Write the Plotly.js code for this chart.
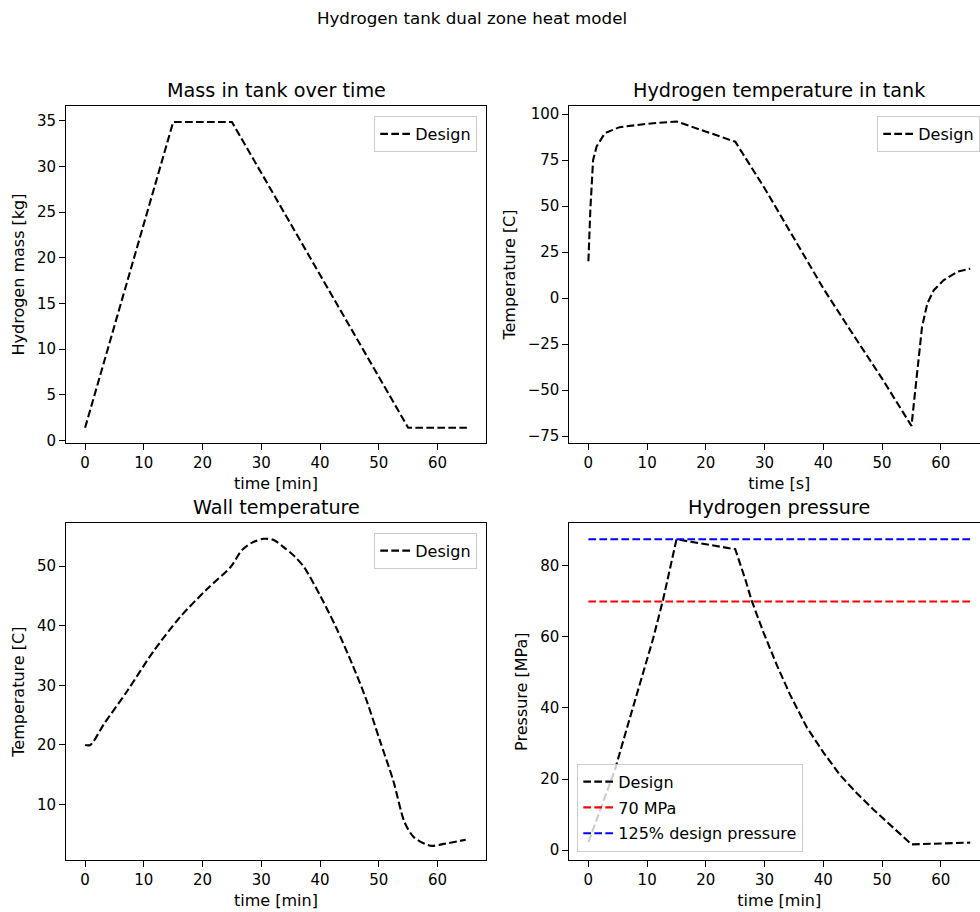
<!DOCTYPE html>
<html>
<head>
<meta charset="utf-8">
<script src="https://cdn.plot.ly/plotly-3.0.1.min.js"></script>
<style>
html, body { margin: 0; padding: 0; overflow: hidden; background: #fff; }
#chart { width: 1000px; height: 912px; }
</style>
</head>
<body>
<div id="chart"></div>
<script>
// ---- data ----
const massTime = [0, 15, 25, 55, 65];
const massKg = [1.4, 34.85, 34.85, 1.4, 1.4];

const gasTime = [0, 0.33, 0.8, 1.4, 2.8, 5.3, 9.9, 15, 25, 30, 35, 40, 45, 50, 55, 56, 56.8, 57.7, 58.8, 60.5, 62.8, 65];
const gasTemp = [20, 47.9, 75, 82.4, 89.6, 92.9, 94.7, 96, 85, 59.7, 32.5, 5.2, -19.5, -43.8, -69.5, -37.5, -15.7, -2.9, 4.3, 9.75, 14.3, 16];

const wallTime = [0, 0.9, 3.2, 7.2, 11.7, 16.2, 20.8, 24.8, 26.7, 28.5, 30.4, 32.1, 33.8, 35.6, 37.3, 40.1, 42.7, 45.5, 47.8, 50.2, 52.5, 54.4, 56, 58.8, 61.1, 64.8];
const wallTemp = [20, 20, 23.5, 29.1, 35.8, 41.5, 46.2, 49.9, 52.7, 54.0, 54.6, 54.4, 53.2, 51.7, 49.8, 44.9, 39.8, 33.5, 27.8, 20.7, 13.9, 7.0, 4.5, 3.1, 3.4, 4.1];

const pressTime = [0, 4.5, 6.8, 9.0, 11.0, 12.7, 15, 25, 26.7, 27.8, 29.8, 32.1, 34.4, 37.2, 40, 42.9, 45.7, 48.6, 51.8, 55, 65];
const pressMPa = [2.2, 22.5, 35.7, 48.2, 59.4, 70.4, 87.5, 84.7, 76.3, 70.2, 61.3, 52.0, 43.5, 34.5, 27.5, 21.0, 16.0, 11.3, 6.5, 1.6, 2.1];

const limitTime = [0, 65];
const limit70 = [70, 70];
const limit125 = [87.5, 87.5];

const seriesNames = ["Design", "70 MPa", "125% design pressure"];
const xTicks = [0, 10, 20, 30, 40, 50, 60];

// ---- figure ----
const W = 1000, H = 912;
const FONT = "DejaVu Sans";
const tickFs = 15;
const labelFs = 16;
const dash = "7.7px,3.3px";
const LW = 2.1;

function px(x) { return x / W; }
function py(y) { return 1 - y / H; }

const traces = [
  {x: massTime, y: massKg, xaxis: "x", yaxis: "y", name: seriesNames[0], legend: "legend",
   mode: "lines", line: {color: "#000", width: LW, dash: dash}},
  {x: gasTime, y: gasTemp, xaxis: "x2", yaxis: "y2", name: seriesNames[0], legend: "legend2",
   mode: "lines", line: {color: "#000", width: LW, dash: dash}},
  {x: wallTime, y: wallTemp, xaxis: "x3", yaxis: "y3", name: seriesNames[0], legend: "legend3",
   mode: "lines", line: {color: "#000", width: LW, dash: dash, shape: "spline", smoothing: 0.8}},
  {x: pressTime, y: pressMPa, xaxis: "x4", yaxis: "y4", name: seriesNames[0], legend: "legend4", legendgroup: "a",
   mode: "lines", line: {color: "#000", width: LW, dash: dash}},
  {x: limitTime, y: limit70, xaxis: "x4", yaxis: "y4", name: seriesNames[1], legend: "legend4", legendgroup: "b",
   mode: "lines", line: {color: "#ff0000", width: LW, dash: dash}},
  {x: limitTime, y: limit125, xaxis: "x4", yaxis: "y4", name: seriesNames[2], legend: "legend4", legendgroup: "c",
   mode: "lines", line: {color: "#0000ff", width: LW, dash: dash}}
];

const colL = [px(66), px(486)];
const colR = [px(569.3), px(989.3)];
const rowT = [py(443), py(106)];
const rowB = [py(860), py(523.3)];

function xax(domain, anchor, title) {
  return {
    domain: domain, anchor: anchor, range: [-3.25, 68.25], tickvals: xTicks,
    showline: true, mirror: true, linecolor: "#000", linewidth: 1,
    ticks: "outside", ticklen: 6, tickwidth: 1, tickcolor: "#000",
    showgrid: false, zeroline: false, automargin: false,
    tickfont: {family: FONT, size: tickFs, color: "#000"},
    title: {text: title, font: {family: FONT, size: labelFs, color: "#000"}, standoff: 6}
  };
}
function yax(domain, anchor, range, tickvals, title) {
  return {
    domain: domain, anchor: anchor, range: range, tickvals: tickvals,
    showline: true, mirror: true, linecolor: "#000", linewidth: 1,
    ticks: "outside", ticklen: 6, tickwidth: 1, tickcolor: "#000",
    showgrid: false, zeroline: false, automargin: false,
    tickfont: {family: FONT, size: tickFs, color: "#000"},
    title: {text: title, font: {family: FONT, size: labelFs, color: "#000"}, standoff: 8}
  };
}

function legendBox(x, y, xanchor, yanchor) {
  return {
    x: x, y: y, xref: "paper", yref: "paper", xanchor: xanchor, yanchor: yanchor,
    bgcolor: "rgba(255,255,255,0.8)", bordercolor: "#cccccc", borderwidth: 1,
    font: {family: FONT, size: labelFs, color: "#000"},
    traceorder: "grouped", tracegroupgap: 2
  };
}

function subTitle(text, x, y) {
  return {text: text, x: x, y: y, xref: "paper", yref: "paper", xanchor: "center", yanchor: "middle",
          showarrow: false, font: {family: FONT, size: 19.2, color: "#000"}};
}

const layout = {
  width: W, height: H,
  margin: {l: 0, r: 0, t: 0, b: 0},
  paper_bgcolor: "#fff", plot_bgcolor: "#fff",
  showlegend: true,
  title: {text: "Hydrogen tank dual zone heat model", x: px(472), y: py(18), xref: "paper", yref: "paper",
          xanchor: "center", yanchor: "middle", font: {family: FONT, size: 16.7, color: "#000"}},
  xaxis: xax(colL, "y", "time [min]"),
  yaxis: yax(rowT, "x", [-0.27, 36.6], [0, 5, 10, 15, 20, 25, 30, 35], "Hydrogen mass [kg]"),
  xaxis2: xax(colR, "y2", "time [s]"),
  yaxis2: yax(rowT, "x2", [-78.8, 104.4], [-75, -50, -25, 0, 25, 50, 75, 100], "Temperature [C]"),
  xaxis3: xax(colL, "y3", "time [min]"),
  yaxis3: yax(rowB, "x3", [0.7, 57.2], [10, 20, 30, 40, 50], "Temperature [C]"),
  xaxis4: xax(colR, "y4", "time [min]"),
  yaxis4: yax(rowB, "x4", [-2.8, 92], [0, 20, 40, 60, 80], "Pressure [MPa]"),
  legend: legendBox(px(477.3), py(116), "right", "top"),
  legend2: legendBox(px(980.3), py(116), "right", "top"),
  legend3: legendBox(px(477.3), py(532.7), "right", "top"),
  legend4: legendBox(px(577.3), py(851.7), "left", "bottom"),
  annotations: [
    subTitle("Mass in tank over time", px(276), py(90)),
    subTitle("Hydrogen temperature in tank", px(779.3), py(90)),
    subTitle("Wall temperature", px(276), py(507)),
    subTitle("Hydrogen pressure", px(779.3), py(507))
  ]
};

Plotly.newPlot("chart", traces, layout, {displayModeBar: false, staticPlot: true});
</script>
</body>
</html>
